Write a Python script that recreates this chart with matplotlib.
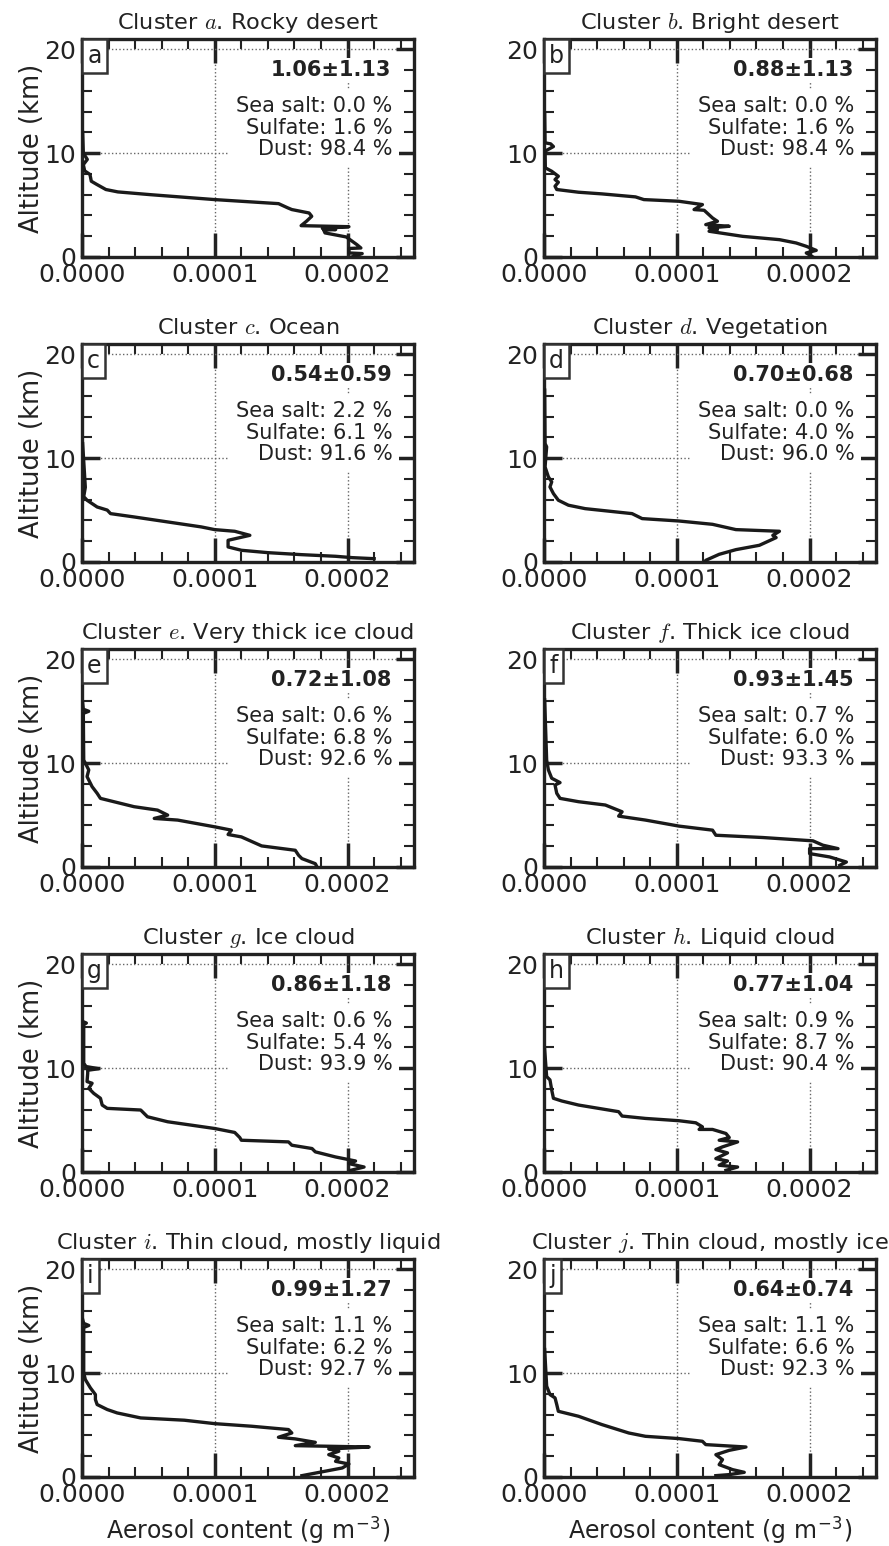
import matplotlib
matplotlib.use("Agg")
import matplotlib.pyplot as plt
from matplotlib.offsetbox import AnchoredText
from matplotlib.ticker import MultipleLocator, FormatStrFormatter

plt.rcParams['font.family'] = ['DejaVu Sans']
plt.rcParams['mathtext.fontset'] = 'cm'

SCALE = 1e-5  # content values below are in units of 1e-5 g m-3

# ---------------- data ----------------
labels = ['a', 'b', 'c', 'd', 'e', 'f', 'g', 'h', 'i', 'j']
names = ['Rocky desert', 'Bright desert', 'Ocean', 'Vegetation',
         'Very thick ice cloud', 'Thick ice cloud', 'Ice cloud', 'Liquid cloud',
         'Thin cloud, mostly liquid', 'Thin cloud, mostly ice']
means = ['1.06±1.13', '0.88±1.13', '0.54±0.59', '0.70±0.68', '0.72±1.08',
         '0.93±1.45', '0.86±1.18', '0.77±1.04', '0.99±1.27', '0.64±0.74']
sea_salt = [0.0, 0.0, 2.2, 0.0, 0.6, 0.7, 0.6, 0.9, 1.1, 1.1]
sulfate = [1.6, 1.6, 6.1, 4.0, 6.8, 6.0, 5.4, 8.7, 6.2, 6.6]
dust = [98.4, 98.4, 91.6, 96.0, 92.6, 93.3, 93.9, 90.4, 92.7, 92.3]

alt_a = [12.0, 10.0, 9.4, 8.9, 8.3, 7.95, 7.3, 7.0, 6.5, 6.27, 6.0, 5.53, 5.14, 4.73, 4.57,
         4.24, 3.92, 3.44, 3.02, 2.92, 2.75, 2.64, 2.60, 2.32, 1.93, 1.19, 0.87, 0.82, 0.39, 0.33, 0.0]
aer_a = [0.05, 0.1, 0.4, 0.1, 0.2, 0.6, 0.7, 1.1, 1.8, 2.7, 5.2, 10.0, 14.8, 15.5, 15.8,
         17.1, 17.3, 16.9, 16.5, 20.1, 18.1, 19.1, 18.2, 18.3, 19.9, 20.7, 21.0, 20.1, 20.1, 21.1, 20.3]

alt_b = [13.9, 11.0, 10.9, 10.64, 10.35, 10.19, 8.59, 8.26, 7.78, 7.46, 7.2, 6.82, 6.5, 6.24,
         6.08, 5.79, 5.53, 5.37, 5.05, 4.57, 4.5, 3.76, 3.44, 3.12, 2.96, 2.8, 2.64, 2.48, 1.99,
         1.67, 1.35, 1.03, 0.64, 0.39, 0.0]
aer_b = [0.05, 0.08, 0.5, 0.71, 0.3, 0.08, 0.1, 0.58, 1.08, 0.83, 1.08, 0.83, 0.96, 2.6,
         4.36, 6.89, 7.52, 10.16, 11.93, 11.3, 12.06, 12.69, 13.06, 12.18, 13.95, 12.43, 13.06,
         12.43, 14.96, 17.73, 18.99, 19.75, 20.5, 19.75, 20.25]

alt_c = [11.4, 7.2, 6.3, 5.95, 5.3, 5.0, 4.66, 4.34, 3.86, 3.38, 3.12, 2.96, 2.57, 2.09,
         1.45, 1.13, 0.9, 0.71, 0.55, 0.42, 0.32]
aer_c = [0.05, 0.25, 0.13, 0.38, 1.14, 1.9, 2.15, 3.92, 6.45, 8.98, 9.99, 11.5, 12.64, 11.0,
         11.0, 12.0, 14.0, 16.5, 19.1, 20.35, 22.0]

alt_d = [16.56, 11.41, 11.09, 9.16, 8.2, 7.72, 7.23, 6.59, 5.95, 5.47, 5.14, 4.66, 4.18,
         3.95, 3.63, 3.12, 2.96, 2.57, 2.35, 1.61, 1.19, 0.74, 0.16, 0.0]
aer_d = [0.05, 0.08, 0.2, 0.08, 0.33, 0.58, 0.45, 0.71, 1.08, 1.84, 3.1, 6.63, 7.39,
         10.16, 12.69, 14.45, 17.73, 17.23, 17.48, 16.22, 14.45, 13.19, 12.18, 12.1]

alt_e = [15.8, 15.2, 15.0, 14.8, 10.3, 9.35, 8.71, 7.74, 7.1, 6.61, 6.29, 5.81, 5.48, 5.0,
         4.68, 4.52, 3.87, 3.55, 3.13, 2.9, 2.03, 1.61, 1.13, 0.81, 0.32, 0.0]
aer_e = [0.05, 0.1, 0.51, 0.1, 0.13, 0.51, 0.38, 0.76, 1.14, 1.39, 2.4, 3.92, 5.69, 6.45,
         5.44, 7.2, 9.99, 11.25, 11.0, 12.0, 13.53, 16.06, 16.31, 16.56, 17.57, 17.7]

alt_f = [16.1, 10.3, 9.35, 8.55, 8.13, 7.9, 7.1, 6.61, 6.29, 5.97, 5.32, 4.9, 4.52, 3.94,
         3.55, 3.06, 2.84, 2.52, 2.1, 1.77, 1.77, 1.29, 0.97, 0.48, 0.16]
aer_f = [0.05, 0.2, 0.33, 0.58, 1.21, 0.83, 0.96, 1.21, 2.6, 4.62, 5.88, 5.62, 7.64, 10.16,
         12.69, 12.94, 16.47, 20.25, 21.0, 22.14, 20.0, 20.0, 21.51, 22.77, 22.27]

alt_g = [14.5, 14.35, 14.2, 10.48, 10.16, 9.95, 9.8, 9.52, 8.71, 8.55, 8.06, 7.58, 7.1,
         6.45, 6.13, 5.97, 5.32, 4.84, 4.19, 3.81, 3.32, 3.06, 2.9, 2.58, 2.26, 1.94, 1.45,
         1.06, 0.81, 0.48, 0.16]
aer_g = [0.05, 0.33, 0.13, 0.13, 0.3, 1.26, 0.43, 0.43, 0.38, 0.76, 0.51, 0.88, 1.39,
         1.52, 1.9, 4.42, 4.93, 6.45, 9.99, 11.5, 11.88, 12.0, 15.55, 15.8, 17.32, 17.57,
         19.09, 20.6, 20.1, 21.24, 20.23]

alt_h = [11.77, 9.19, 8.87, 7.9, 7.1, 6.84, 6.45, 6.13, 5.81, 5.39, 5.16, 4.94, 4.74, 4.35,
         4.1, 4.1, 3.71, 3.32, 3.06, 2.9, 2.42, 2.16, 1.84, 1.29, 1.06, 0.65, 0.48, 0.16]
aer_h = [0.05, 0.2, 0.45, 0.58, 0.71, 1.34, 2.6, 4.11, 5.62, 5.88, 7.64, 10.16, 11.43,
         11.93, 11.68, 12.69, 13.7, 13.95, 13.19, 14.58, 13.44, 12.94, 13.82, 12.94, 13.82,
         13.19, 14.58, 13.7]

alt_i = [15.18, 14.8, 14.6, 14.4, 10.03, 9.39, 8.59, 7.94, 7.46, 6.98, 6.5, 6.17, 5.69,
         5.47, 5.14, 4.89, 4.57, 4.24, 3.83, 3.67, 3.34, 3.02, 2.89, 2.7, 2.48, 2.15, 1.83,
         1.51, 1.25, 0.87, 0.13]
aer_i = [0.05, 0.13, 0.51, 0.13, 0.13, 0.25, 0.63, 1.01, 1.01, 1.14, 1.9, 2.65, 4.42,
         7.71, 9.99, 12.77, 15.55, 15.8, 14.79, 16.06, 17.57, 16.06, 21.62, 18.58, 19.34,
         18.58, 19.34, 19.09, 20.1, 19.6, 16.56]

alt_j = [12.28, 8.75, 7.94, 7.62, 6.98, 6.33, 5.85, 5.05, 4.24, 3.92, 3.7, 3.44, 3.12,
         2.89, 2.57, 2.15, 1.67, 1.19, 0.71, 0.45, 0.23, 0.13]
aer_j = [0.05, 0.2, 0.45, 0.83, 0.96, 1.08, 2.6, 4.36, 6.38, 7.64, 10.16, 11.93, 12.18,
         15.21, 13.95, 12.94, 13.44, 13.19, 14.2, 15.08, 13.95, 12.94]

altitudes = [alt_a, alt_b, alt_c, alt_d, alt_e, alt_f, alt_g, alt_h, alt_i, alt_j]
contents = [aer_a, aer_b, aer_c, aer_d, aer_e, aer_f, aer_g, aer_h, aer_i, aer_j]

# ---------------- figure ----------------
W, H = 889, 1546
fig = plt.figure(figsize=(W / 100, H / 100), dpi=100)

col_left = [82, 544]
ax_w = 332
ax_h = 218
row_bottom = [257, 562, 867, 1172, 1477]

TXT = '#222222'
LINE = '#1a1a1a'

for k in range(10):
    r, c = divmod(k, 2)
    left = col_left[c] / W
    bottom = 1 - row_bottom[r] / H
    ax = fig.add_axes([left, bottom, ax_w / W, ax_h / H])
    x = [v * SCALE for v in contents[k]]
    ax.plot(x, altitudes[k], color=LINE, lw=2.4, zorder=3)
    ax.set_xlim(0, 0.00025)
    ax.set_ylim(0, 21)
    ax.xaxis.set_major_locator(MultipleLocator(0.0001))
    ax.xaxis.set_minor_locator(MultipleLocator(0.00002))
    ax.xaxis.set_major_formatter(FormatStrFormatter('%.4f'))
    ax.yaxis.set_major_locator(MultipleLocator(10))
    ax.yaxis.set_minor_locator(MultipleLocator(2))
    ax.grid(True, which='major', linestyle=':', color='#666666', lw=1.0, zorder=0)
    ax.set_axisbelow(True)
    ax.tick_params(which='both', direction='in', top=True, right=True,
                   colors=TXT, labelsize=18)
    ax.tick_params(axis='x', which='major', length=17, width=2.5, pad=4)
    ax.tick_params(axis='y', which='major', length=13, width=2.5, pad=4)
    ax.tick_params(which='minor', length=7, width=1.5)
    for sp in ax.spines.values():
        sp.set_linewidth(2.4)
        sp.set_color(TXT)
    ax.set_title('Cluster $%s$. %s' % (labels[k], names[k]), fontsize=16.2,
                 color=TXT, pad=7)
    if c == 0:
        ax.set_ylabel('Altitude (km)', fontsize=18.5, color=TXT, labelpad=0)
    if r == 4:
        ax.set_xlabel('Aerosol content (g m$^{\\mathregular{-3}}$)', fontsize=17,
                      color=TXT, labelpad=6)

    at = AnchoredText(labels[k], loc='upper left', frameon=True, pad=0.22,
                      borderpad=0.0, prop=dict(size=17, color=TXT))
    at.patch.set_edgecolor('#333333')
    at.patch.set_linewidth(1.8)
    at.patch.set_boxstyle('square,pad=0')
    at.set_zorder(5)
    ax.add_artist(at)

    ax.text(0.932, 0.858, means[k], transform=ax.transAxes, ha='right', va='center',
            fontsize=15, fontweight='bold', color=TXT, zorder=4,
            bbox=dict(facecolor='white', edgecolor='none', pad=1.0))
    block = 'Sea salt: %.1f %%\nSulfate: %.1f %%\nDust: %.1f %%' % (
        sea_salt[k], sulfate[k], dust[k])
    ax.text(0.935, 0.594, block, transform=ax.transAxes, ha='right', va='center',
            multialignment='right', fontsize=15, color=TXT, linespacing=1.12, zorder=4,
            bbox=dict(facecolor='white', edgecolor='none', pad=5.0))

fig.savefig('out.png', dpi=100)
